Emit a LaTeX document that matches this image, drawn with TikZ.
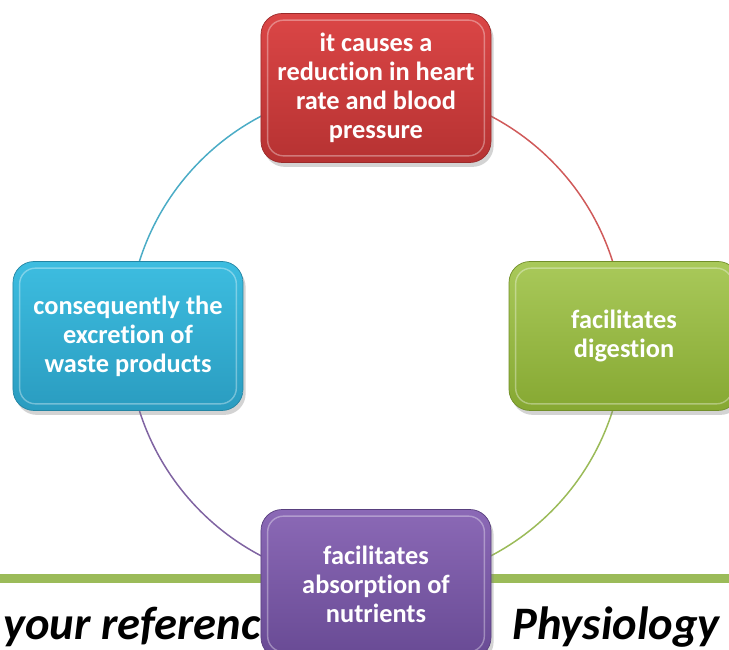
\documentclass[tikz,border=0pt]{standalone}
\usepackage{fontspec}
\newfontfamily\calibri[RawFeature=-liga]{Carlito}
\usetikzlibrary{positioning,shadows,backgrounds}

\definecolor{redtop}{HTML}{DB4646}
\definecolor{redbot}{HTML}{B63232}
\definecolor{redline}{HTML}{D05A5A}
\definecolor{greentop}{HTML}{A9C95A}
\definecolor{greenbot}{HTML}{86A832}
\definecolor{greenline}{HTML}{9BBB59}
\definecolor{cyantop}{HTML}{3DBDE0}
\definecolor{cyanbot}{HTML}{2A9CC0}
\definecolor{cyanline}{HTML}{4BACC6}
\definecolor{purptop}{HTML}{8B69B6}
\definecolor{purpbot}{HTML}{684A94}
\definecolor{purpline}{HTML}{8064A2}

\begin{document}
\begin{tikzpicture}[stagebox/.style={rounded corners=12pt, minimum width=4.6cm, minimum height=2.98cm, align=center, text=white, font=\calibri\bfseries\fontsize{15}{16.5}\selectfont, drop shadow={opacity=0.35, shadow xshift=1.5pt, shadow yshift=-2.5pt}},
		ringarc/.style={line width=0.85pt}]
		\useasboundingbox (-7.52,-6.28) rectangle (7.06,6.72);

		\node (reduce) at (0,4.96) [stagebox, draw=redbot!85!black, top color=redtop, bottom color=redbot] {it causes a\\reduction in heart\\rate and blood\\pressure};
		\node (digest) at (4.96,0) [stagebox, draw=greenbot!85!black, top color=greentop, bottom color=greenbot] {facilitates\\digestion};
		\node (absorb) at (0,-4.96) [stagebox, draw=purpbot!85!black, top color=purptop, bottom color=purpbot] {facilitates\\absorption of\\nutrients};
		\node (excrete) at (-4.96,0) [stagebox, draw=cyanbot!85!black, top color=cyantop, bottom color=cyanbot] {consequently the\\excretion of\\waste products};

		% inner bevel of each box
		\foreach \n in {reduce,digest,absorb,excrete}
			\draw [white, opacity=0.35, line width=0.8pt, rounded corners=9pt] ([shift={(0.14,-0.14)}]\n.north west) rectangle ([shift={(-0.14,0.14)}]\n.south east);

		\begin{scope}[on background layer]
			\draw [ringarc, redline]   (reduce.center)  arc[start angle=90,  delta angle=-90, radius=4.96];
			\draw [ringarc, greenline] (digest.center)  arc[start angle=0,   delta angle=-90, radius=4.96];
			\draw [ringarc, purpline]  (absorb.center)  arc[start angle=270, delta angle=-90, radius=4.96];
			\draw [ringarc, cyanline]  (excrete.center) arc[start angle=180, delta angle=-90, radius=4.96];

			\coordinate (rule west) at (-7.52,-4.86);
			\coordinate (rule east) at (7.06,-4.86);
			\draw [greenline, line width=0.18cm] (rule west) -- (rule east);

			\node (refleft) at (-7.46,-6.08) [anchor=base west, inner sep=0pt, font=\calibri\bfseries\itshape\fontsize{26.5}{30}\selectfont] {your reference};
			\node (refright) at (6.88,-6.08) [anchor=base east, inner sep=0pt, font=\calibri\bfseries\itshape\fontsize{26.5}{30}\selectfont] {Physiology};
		\end{scope}
	\end{tikzpicture}
\end{document}
